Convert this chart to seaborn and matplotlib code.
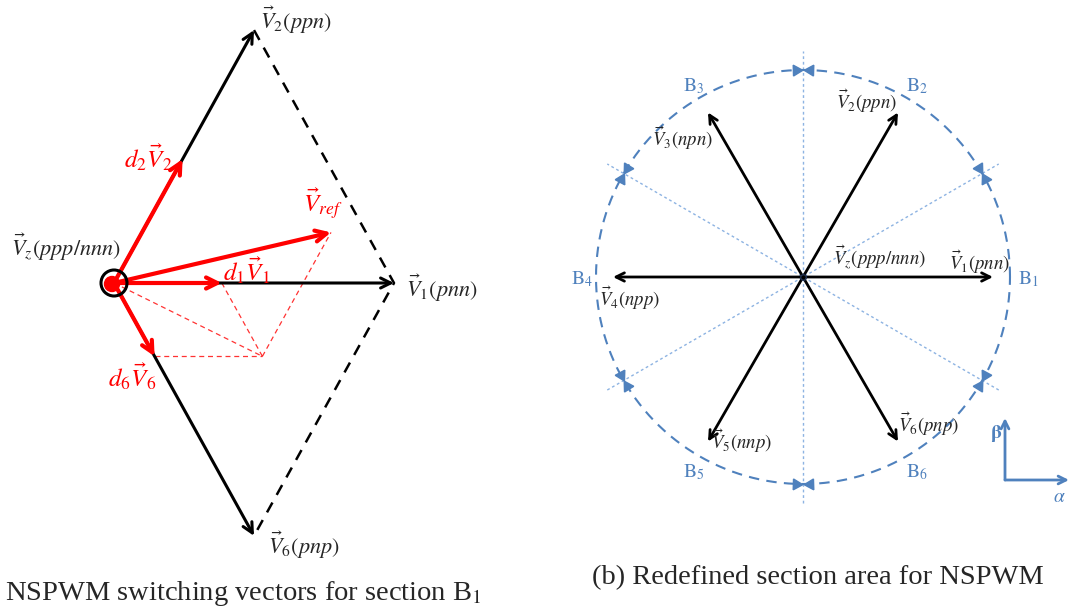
import numpy as np
import matplotlib
matplotlib.use("Agg")
import matplotlib.pyplot as plt
import seaborn as sns

# ---------------- data ----------------
vector_ids = [1, 2, 3, 4, 5, 6]
switch_states = ["pnn", "ppn", "npn", "npp", "nnp", "pnp"]
vector_angles = [0, 60, 120, 180, 240, 300]          # degrees, alpha-beta plane
sector_names = ["1", "2", "3", "4", "5", "6"]          # B1 .. B6, centred on V1 .. V6
boundary_angles = [30, 90, 150, 210, 270, 330]         # redefined section borders
zero_state = "ppp/nnn"
# duty ratios of the three active vectors used in section B1
d1, d2, d6 = 0.385, 0.49, 0.29

# ---------------- style ----------------
sns.set_theme(style="white")
plt.rcParams["mathtext.fontset"] = "stix"
plt.rcParams["font.family"] = ["Liberation Serif", "DejaVu Serif"]

BLUE = "#4F81BD"
LIGHT_BLUE = "#8DB3E2"
RED = "#FF0000"

W, H = 1072, 616
fig = plt.figure(figsize=(W / 100, H / 100), dpi=100)
ax = fig.add_axes([0, 0, 1, 1])
ax.set_xlim(0, W)
ax.set_ylim(H, 0)
ax.axis("off")


def arrow(p0, p1, color="black", lw=2.0, ms=16, z=3):
    ax.annotate("", xy=p1, xytext=p0,
                arrowprops=dict(arrowstyle="->", color=color, lw=lw,
                                mutation_scale=ms, shrinkA=0, shrinkB=0),
                zorder=z)


def unit(deg):
    a = np.deg2rad(deg)
    return np.array([np.cos(a), -np.sin(a)])


# ================= left panel: switching vectors for B1 =================
O = np.array([114.0, 283.0])
sx, sy = 280.0, 292.0


def lvec(deg, mag=1.0):
    u = unit(deg)
    return np.array([u[0] * sx, u[1] * sy]) * mag


V1 = lvec(vector_angles[0])
V2 = lvec(vector_angles[1])
V6 = lvec(vector_angles[5])

# full-length black vectors and dashed hexagon edges
for v in (V1, V2, V6):
    arrow(O, O + v, lw=2.2, ms=18)
sns.lineplot(x=[(O + V2)[0], (O + V1)[0], (O + V6)[0]],
             y=[(O + V2)[1], (O + V1)[1], (O + V6)[1]],
             sort=False, estimator=None, color="black", lw=1.8,
             linestyle=(0, (4.5, 3.5)), ax=ax)

# duty-weighted components and reference vector
a1, a2, a6 = O + d1 * V1, O + d2 * V2, O + d6 * V6
P = O + d1 * V1 + d6 * V6
Vref = P + d2 * V2

for a, b in [(O, P), (a1, P), (a6, P), (P, Vref)]:
    ax.plot([a[0], b[0]], [a[1], b[1]], color=RED, lw=0.9,
            linestyle=(0, (4, 3)), alpha=0.8, zorder=2)

for tip in (a1, a2, a6, Vref):
    arrow(O, tip, color=RED, lw=3.0, ms=20, z=4)

ax.add_patch(plt.Circle(O, 13, fill=False, ec="black", lw=2.2, zorder=5))
ax.add_patch(plt.Circle(O - np.array([2, -1]), 7.5, color=RED, zorder=6))

lf = 16
ax.text(296, 20, rf"$\vec{{V}}_{vector_ids[1]}(\mathit{{{switch_states[1]}}})$",
        fontsize=lf, ha="center", va="center")
ax.text(442, 288, rf"$\vec{{V}}_{vector_ids[0]}(\mathit{{{switch_states[0]}}})$",
        fontsize=lf, ha="center", va="center")
ax.text(304, 545, rf"$\vec{{V}}_{vector_ids[5]}(\mathit{{{switch_states[5]}}})$",
        fontsize=lf, ha="center", va="center")
ax.text(66, 247, rf"$\vec{{V}}_z(\mathit{{{zero_state}}})$",
        fontsize=lf, ha="center", va="center")
rl = 18
ax.text(148, 157, r"$d_2\vec{V}_2$", fontsize=rl, color=RED, ha="center", va="center")
ax.text(323, 204, r"$\vec{V}_{ref}$", fontsize=rl, color=RED, ha="center", va="center")
ax.text(246, 270, r"$d_1\vec{V}_1$", fontsize=rl, color=RED, ha="center", va="center")
ax.text(132, 376, r"$d_6\vec{V}_6$", fontsize=rl, color=RED, ha="center", va="center")

ax.text(5, 593, r"NSPWM switching vectors for section B$_1$", fontsize=20.5,
        ha="left", va="center")

# ================= right panel: redefined sections =================
C = np.array([803.0, 277.0])
r_vec, r_circ, r_line, r_lab = 190.0, 207.0, 226.0, 223.0

theta = np.linspace(0, 360, 721)
circ = C[None, :] + r_circ * np.stack([np.cos(np.deg2rad(theta)),
                                       -np.sin(np.deg2rad(theta))], axis=1)
sns.lineplot(x=circ[:, 0], y=circ[:, 1], sort=False, estimator=None,
             color=BLUE, lw=1.5, linestyle=(0, (5, 3.5)), ax=ax)

# dotted border lines through the centre (each covers two borders)
for b in boundary_angles[:3]:
    p0, p1 = C - r_line * unit(b), C + r_line * unit(b)
    ax.plot([p0[0], p1[0]], [p0[1], p1[1]], color=LIGHT_BLUE, lw=1.0,
            linestyle=(0, (2, 2)), zorder=1)

# arrowheads on the circle pointing into each border
delta = 1.8
for b in boundary_angles:
    for side in (+1, -1):
        ang = b + side * delta
        pos = C + r_circ * unit(ang)
        heading = ang - side * 90          # tangent direction toward the border
        ax.plot(pos[0], pos[1], marker=(3, 0, heading - 90), ms=9,
                color=BLUE, mec=BLUE, zorder=3)

for ang in vector_angles:
    arrow(C, C + r_vec * unit(ang), lw=2.0, ms=15)
ax.plot(C[0], C[1], "o", ms=4, mfc="none", mec="#203050", mew=1, zorder=4)

label_offsets = [(-13, -15), (-31, -11), (-25, 26), (17, 21), (34, 0), (31, -17)]
rf_size = 13.5
for vid, st, ang, off in zip(vector_ids, switch_states, vector_angles, label_offsets):
    tip = C + r_vec * unit(ang)
    ax.text(tip[0] + off[0], tip[1] + off[1],
            rf"$\vec{{V}}_{vid}(\mathit{{{st}}})$",
            fontsize=rf_size, ha="center", va="center")
ax.text(880, 257, rf"$\vec{{V}}_z(\mathit{{{zero_state}}})$",
        fontsize=rf_size, ha="center", va="center")

for name, ang in zip(sector_names, vector_angles):
    p = C + r_lab * unit(ang) + np.array([2, 2])
    ax.text(p[0], p[1], rf"$\mathrm{{B}}_{{\mathrm{{{name}}}}}$", fontsize=14,
            color=BLUE, ha="center", va="center")

# alpha-beta reference frame
corner = np.array([1005.0, 480.0])
arrow(corner, corner + np.array([0, -62]), color=BLUE, lw=2.0, ms=14)
arrow(corner, corner + np.array([64, 0]), color=BLUE, lw=2.0, ms=14)
ax.text(996, 434, r"$\mathbf{\beta}$", fontsize=14, color=BLUE,
        ha="center", va="center")
ax.text(1059, 497, r"$\alpha$", fontsize=14, color=BLUE,
        ha="center", va="center")

ax.text(818, 578, "(b) Redefined section area for NSPWM", fontsize=20.5,
        ha="center", va="center")

fig.savefig("out.png", dpi=100)
